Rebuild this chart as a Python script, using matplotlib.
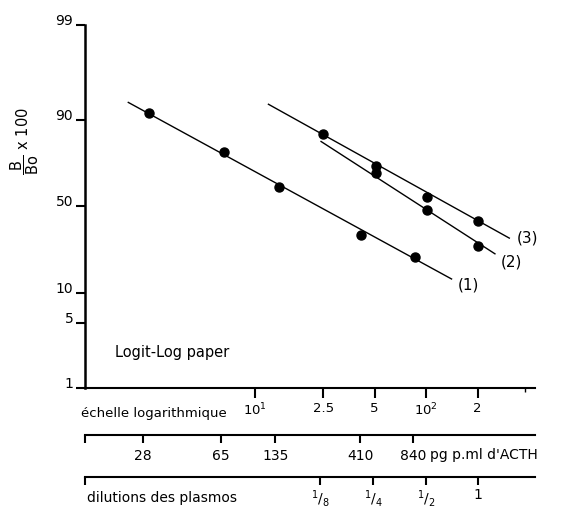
import matplotlib
matplotlib.use("Agg")
import matplotlib.pyplot as plt
from matplotlib.ticker import FixedLocator, NullFormatter

# values
# (1) standard curve, ACTH in the x log scale
std_x = [2.4, 6.6, 13.7, 41.7, 86]
std_y = [91.4, 79.8, 62.3, 32.7, 21.5]
# (2) and (3) plasma dilutions
s2_x = [51, 101, 202]
s2_y = [69.8, 47.8, 26.9]
s3_x = [25, 51, 101, 202]
s3_y = [86.2, 73.3, 55.8, 40.9]

# fitted lines as drawn (end points)
l1_x, l1_y = [1.81, 141], [93.3, 13.7]
l2_x, l2_y = [24.3, 253], [83.8, 23.1]
l3_x, l3_y = [11.96, 307], [93.0, 30.9]

y_ticks = [1, 5, 10, 50, 90, 99]
x_ticks = [10, 25, 50, 100, 200]
x_labels = ["10$^1$", "2.5", "5", "10$^2$", "2"]
acth_pos = [2.2, 6.32, 13.1, 41.1, 84.4]
acth_labels = ["28", "65", "135", "410", "840"]
dil_pos = [24, 49, 100, 200]
dil_labels = [r"$^1/_8$", r"$^1/_4$", r"$^1/_2$", "1"]

W, H = 566, 509
XMIN, XMAX = 1.01, 434


def box(x0, y0, x1, y1):
    return [x0 / W, 1 - y1 / H, (x1 - x0) / W, (y1 - y0) / H]


fig = plt.figure(figsize=(W / 100, H / 100), dpi=100)

ax = fig.add_axes(box(85, 25, 535, 387.7))
ax.set_xscale("log")
ax.set_yscale("logit")
ax.set_xlim(XMIN, XMAX)
ax.set_ylim(0.01, 0.99)

for lx, ly in [(l1_x, l1_y), (l2_x, l2_y), (l3_x, l3_y)]:
    ax.plot(lx, [v / 100 for v in ly], color="black", lw=1.0)
for sx, sy in [(std_x, std_y), (s2_x, s2_y), (s3_x, s3_y)]:
    ax.plot(sx, [v / 100 for v in sy], "o", color="black", ms=6.5)

ax.text(394, 0.312, "(3)", ha="center", va="center", fontsize=11)
ax.text(318, 0.198, "(2)", ha="center", va="center", fontsize=11)
ax.text(176, 0.121, "(1)", ha="center", va="center", fontsize=11)

for s in ["top", "right"]:
    ax.spines[s].set_visible(False)
ax.spines["left"].set_linewidth(1.8)
ax.spines["bottom"].set_linewidth(1.5)

ax.yaxis.set_major_locator(FixedLocator([v / 100 for v in y_ticks]))
ax.yaxis.set_minor_locator(FixedLocator([]))
ax.set_yticklabels([str(v) for v in y_ticks])
ax.tick_params(axis="y", direction="out", length=6.5, width=1.5, pad=2, labelsize=10)
for lab in ax.get_yticklabels():
    lab.set_va("baseline")

ax.xaxis.set_major_locator(FixedLocator(x_ticks))
ax.xaxis.set_minor_locator(FixedLocator([380]))
ax.xaxis.set_minor_formatter(NullFormatter())
ax.set_xticklabels(x_labels)
ax.tick_params(axis="x", which="major", direction="out", length=7, width=1.5, pad=3, labelsize=9.5)
ax.tick_params(axis="x", which="minor", direction="out", length=3, width=1.0)


def scale_axis(ypix, pos, labels, size, pad):
    a = fig.add_axes(box(85, ypix - 0.5, 535, ypix))
    a.set_xscale("log")
    a.set_xlim(XMIN, XMAX)
    a.patch.set_visible(False)
    for s in ["top", "left", "right"]:
        a.spines[s].set_visible(False)
    a.spines["bottom"].set_linewidth(1.5)
    a.set_yticks([])
    a.xaxis.set_major_locator(FixedLocator(pos))
    a.xaxis.set_minor_locator(FixedLocator([XMIN]))
    a.xaxis.set_minor_formatter(NullFormatter())
    a.set_xticklabels(labels)
    a.tick_params(axis="x", which="both", direction="out", length=6, width=1.5,
                  pad=pad, labelsize=size)
    return a


scale_axis(435, acth_pos, acth_labels, 10, 4)
scale_axis(477, dil_pos, dil_labels, 10, 2)

fig.text(25 / W, 1 - 141 / H, r"$\dfrac{\mathrm{B}}{\mathrm{Bo}}$ x 100",
         rotation=90, ha="center", va="center", fontsize=10.5)
fig.text(115 / W, 1 - 352.7 / H, "Logit-Log paper", va="center", fontsize=10.5)
fig.text(81 / W, 1 - 414 / H, "échelle logarithmique", va="center", fontsize=9.5)
fig.text(430 / W, 1 - 455 / H, "pg p.ml d'ACTH", va="center", fontsize=10)
fig.text(87 / W, 1 - 498 / H, "dilutions des plasmos", va="center", fontsize=10)

fig.savefig("out.png", dpi=100)
